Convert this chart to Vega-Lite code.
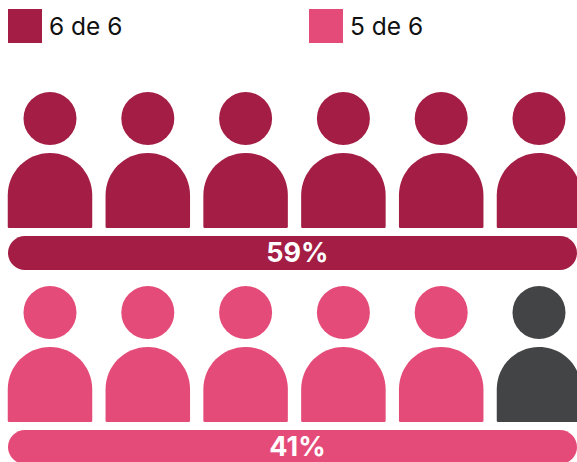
{
"$schema":"https://vega.github.io/schema/vega-lite/v6.json",
"autosize":{"type":"none"},
"width":577,"height":462,"padding":0,
"background":"white",
"view":{"stroke":null},
"datasets":{
"people":[
{"row":1,"col":1,"status":"6 de 6"},{"row":1,"col":2,"status":"6 de 6"},{"row":1,"col":3,"status":"6 de 6"},{"row":1,"col":4,"status":"6 de 6"},{"row":1,"col":5,"status":"6 de 6"},{"row":1,"col":6,"status":"6 de 6"},
{"row":2,"col":1,"status":"5 de 6"},{"row":2,"col":2,"status":"5 de 6"},{"row":2,"col":3,"status":"5 de 6"},{"row":2,"col":4,"status":"5 de 6"},{"row":2,"col":5,"status":"5 de 6"},{"row":2,"col":6,"status":"Resto"}],
"bars":[{"row":1,"status":"6 de 6","label":"59%"},{"row":2,"status":"5 de 6","label":"41%"}]
},
"encoding":{
"y":{"field":"row","type":"quantitative","scale":{"domain":[1,2],"range":[253,447],"nice":false,"zero":false,"padding":0},"axis":null}
},
"layer":[
{"data":{"name":"people"},
"mark":{"type":"point","filled":true,"opacity":1,"shape":"circle","size":2809,"yOffset":-134.5,"clip":false},
"encoding":{
"x":{"field":"col","type":"quantitative","scale":{"domain":[0.4888,6.3885],"nice":false,"zero":false,"padding":0},"axis":null},
"color":{"field":"status","type":"nominal","scale":{"domain":["6 de 6","5 de 6","Resto"],"range":["#A31D44","#E54B79","#434445"]},
"legend":{"values":["6 de 6","5 de 6"],"title":null,"orient":"none","legendX":8,"legendY":9,"direction":"horizontal","columns":2,"columnPadding":186,"symbolType":"square","symbolSize":1156,"symbolStrokeWidth":0,"symbolOpacity":1,"labelFont":"Inter","labelFontSize":24.5,"labelColor":"#111111","labelOffset":7,"padding":0,"encoding":{"labels":{"dy":{"value":2}}}}}
}},
{"data":{"name":"people"},
"mark":{"type":"point","filled":true,"opacity":1,"shape":"M-1 0.1124 A1 1 0 0 1 1 0.1124 L1 0.86 Q1 0.8876 0.97 0.8876 L-0.97 0.8876 Q-1 0.8876 -1 0.86 Z","size":7140,"yOffset":-62.5},
"encoding":{
"x":{"field":"col","type":"quantitative","axis":null},
"color":{"field":"status","type":"nominal"}
}},
{"data":{"name":"bars"},
"mark":{"type":"bar","size":34,"cornerRadius":17},
"encoding":{
"x":{"datum":0.5706,"type":"quantitative"},
"x2":{"datum":6.3885},
"color":{"field":"status","type":"nominal"}
}},
{"data":{"name":"bars"},
"mark":{"type":"text","color":"white","font":"Inter","fontSize":27,"fontWeight":"bold","baseline":"middle","align":"center","yOffset":1},
"encoding":{
"x":{"datum":3.53,"type":"quantitative"},
"text":{"field":"label","type":"nominal"}
}}
]
}
